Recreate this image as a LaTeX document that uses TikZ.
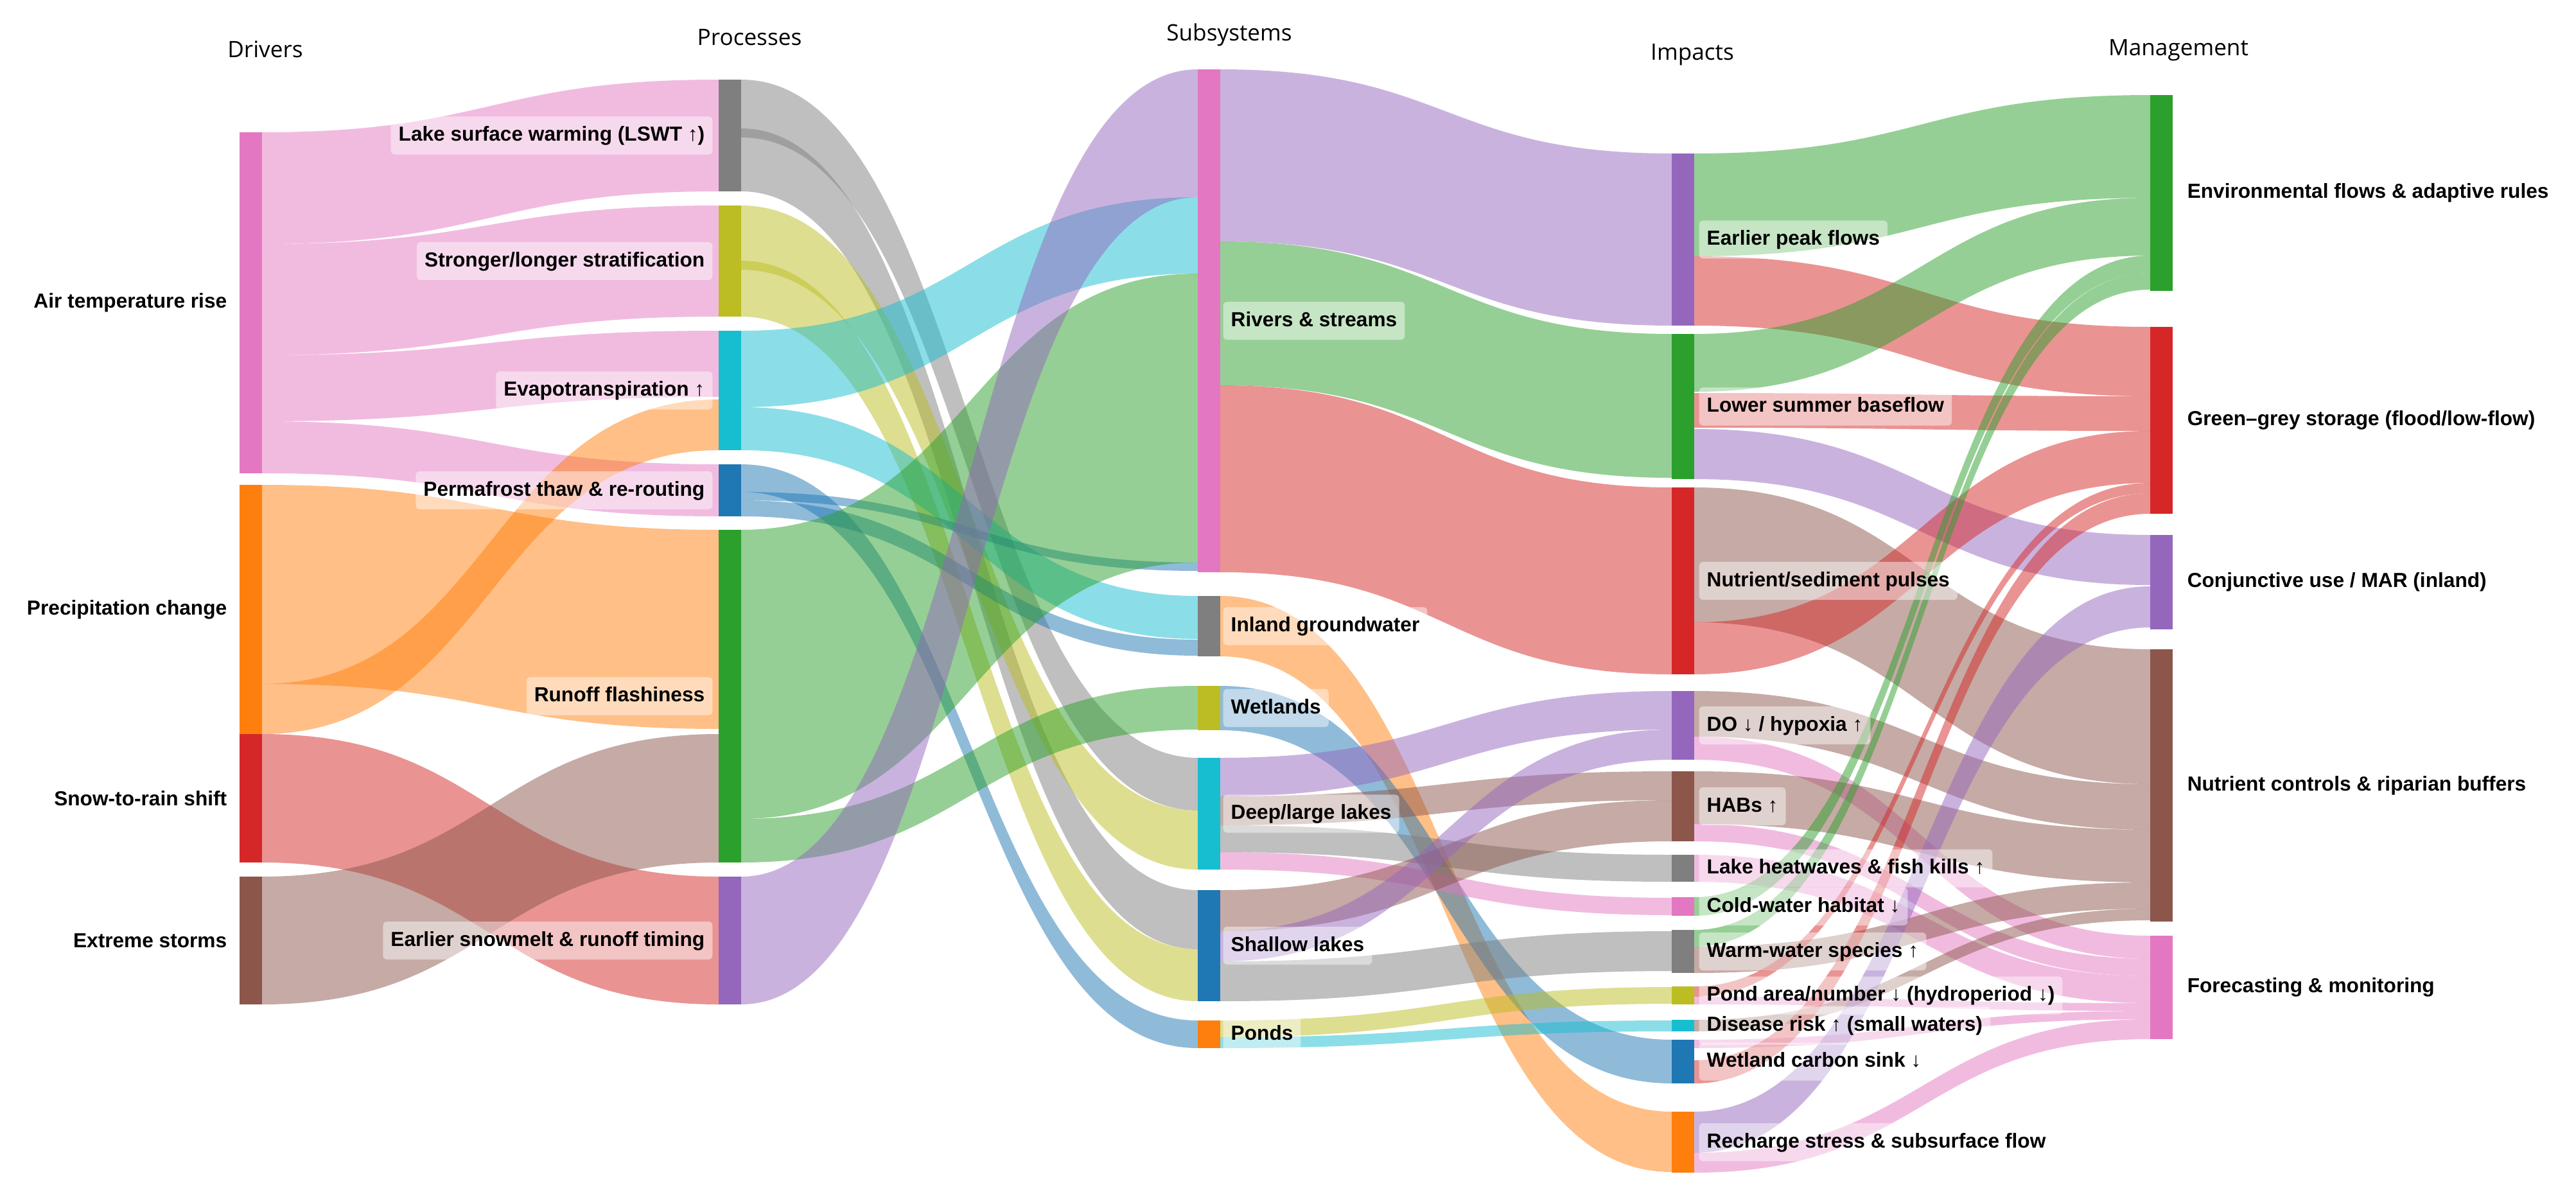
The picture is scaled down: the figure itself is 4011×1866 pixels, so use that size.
\documentclass[tikz,border=0pt]{standalone}
\usepackage{fontspec}
\setmainfont{Liberation Sans}
\newfontfamily\headfont{Open Sans}
\usetikzlibrary{positioning,fit,backgrounds}

\definecolor{tpink}{HTML}{E377C2}
\definecolor{torange}{HTML}{FF7F0E}
\definecolor{tred}{HTML}{D62728}
\definecolor{tbrown}{HTML}{8C564B}
\definecolor{tgray}{HTML}{7F7F7F}
\definecolor{tolive}{HTML}{BCBD22}
\definecolor{tcyan}{HTML}{17BECF}
\definecolor{tblue}{HTML}{1F77B4}
\definecolor{tgreen}{HTML}{2CA02C}
\definecolor{tpurple}{HTML}{9467BD}

\tikzset{stockbar/.style={rectangle,draw=none,inner sep=0,outer sep=0},
    band/.style={draw=none,fill opacity=0.5},
    plainlabel/.style={inner sep=0.08cm,font=\bfseries\fontsize{9}{10}\selectfont},
    tag/.style={rounded corners=0.06cm,fill=white,fill opacity=0.45,text opacity=1,
        inner xsep=0.12cm,inner ysep=0.14cm,text height=0.24cm,text depth=0.07cm,
        font=\bfseries\fontsize{9}{10}\selectfont},
    header/.style={font=\headfont\fontsize{10}{12}\selectfont}}

% bar of one stage: name, left x, top y, bottom y, colour
\newcommand{\stock}[5]{\node[stockbar,fill=#5,fit={(#2,#3) (#2+35,#4)}] (#1) {};}
% band: source, src top, src bottom, target, tgt top, tgt bottom, colour
\newcommand{\flow}[7]{\fill[band,fill=#7] (#1.east |- 0,#2) .. controls +(355,0) and +(-355,0) .. (#4.west |- 0,#5)
    -- (#4.west |- 0,#6) .. controls +(-355,0) and +(355,0) .. (#1.east |- 0,#3) -- cycle;}

\begin{document}
\begin{tikzpicture}[x=0.01cm,y=-0.01cm]
\useasboundingbox (0,0) rectangle (4011,1866);

% drivers
\stock{air}{373}{206}{737}{tpink}
\stock{precip}{373}{755}{1143}{torange}
\stock{snow}{373}{1143}{1343}{tred}
\stock{storms}{373}{1365}{1564}{tbrown}
% processes
\stock{lswt}{1119}{124}{298}{tgray}
\stock{strat}{1119}{320}{493}{tolive}
\stock{evap}{1119}{515}{701}{tcyan}
\stock{perma}{1119}{723}{804}{tblue}
\stock{runoff}{1119}{825}{1343}{tgreen}
\stock{melt}{1119}{1365}{1564}{tpurple}
% subsystems
\stock{rivers}{1865}{108}{891}{tpink}
\stock{gw}{1865}{928}{1022}{tgray}
\stock{wet}{1865}{1068}{1137}{tolive}
\stock{deep}{1865}{1180}{1354}{tcyan}
\stock{shallow}{1865}{1386}{1559}{tblue}
\stock{ponds}{1865}{1589}{1632}{torange}
% impacts
\stock{peak}{2603}{239}{507}{tpurple}
\stock{base}{2603}{520}{746}{tgreen}
\stock{pulse}{2603}{759}{1050}{tred}
\stock{hypox}{2603}{1076}{1183}{tpurple}
\stock{habs}{2603}{1201}{1310}{tbrown}
\stock{heat}{2603}{1331}{1373}{tgray}
\stock{cold}{2603}{1397}{1426}{tpink}
\stock{warm}{2603}{1448}{1515}{tgray}
\stock{pondarea}{2603}{1536}{1564}{tolive}
\stock{disease}{2603}{1588}{1606}{tcyan}
\stock{carbon}{2603}{1619}{1687}{tblue}
\stock{recharge}{2603}{1731}{1826}{torange}
% management
\stock{eflow}{3348}{148}{453}{tgreen}
\stock{storage}{3348}{509}{800}{tred}
\stock{conj}{3348}{833}{980}{tpurple}
\stock{nutctl}{3348}{1011}{1435}{tbrown}
\stock{forecast}{3348}{1457}{1618}{tpink}

\begin{pgfonlayer}{background}
% drivers -> processes
\flow{air}{206}{380}{lswt}{124}{298}{tpink}
\flow{air}{380}{553}{strat}{320}{493}{tpink}
\flow{air}{553}{656}{evap}{515}{618}{tpink}
\flow{air}{656}{737}{perma}{723}{804}{tpink}
\flow{precip}{755}{1065}{runoff}{825}{1135}{torange}
\flow{precip}{1065}{1143}{evap}{622}{701}{torange}
\flow{snow}{1143}{1343}{melt}{1365}{1564}{tred}
\flow{storms}{1365}{1564}{runoff}{1143}{1343}{tbrown}
% processes -> subsystems
\flow{lswt}{124}{214}{deep}{1180}{1262}{tgray}
\flow{lswt}{200}{298}{shallow}{1386}{1478}{tgray}
\flow{strat}{320}{420}{deep}{1262}{1354}{tolive}
\flow{strat}{406}{493}{shallow}{1478}{1559}{tolive}
\flow{evap}{515}{634}{rivers}{307}{426}{tcyan}
\flow{evap}{634}{701}{gw}{928}{995}{tcyan}
\flow{perma}{723}{766}{ponds}{1589}{1632}{tblue}
\flow{perma}{766}{779}{rivers}{876}{889}{tblue}
\flow{perma}{779}{804}{gw}{996}{1021}{tblue}
\flow{runoff}{825}{1275}{rivers}{426}{876}{tgreen}
\flow{runoff}{1275}{1343}{wet}{1068}{1136}{tgreen}
\flow{melt}{1365}{1564}{rivers}{108}{307}{tpurple}
% subsystems -> impacts
\flow{rivers}{108}{376}{peak}{239}{507}{tpurple}
\flow{rivers}{376}{600}{base}{520}{744}{tgreen}
\flow{rivers}{600}{891}{pulse}{759}{1050}{tred}
\flow{gw}{928}{1022}{recharge}{1731}{1825}{torange}
\flow{wet}{1068}{1137}{carbon}{1619}{1687}{tblue}
\flow{deep}{1180}{1240}{hypox}{1076}{1136}{tpurple}
\flow{deep}{1240}{1285}{habs}{1201}{1246}{tbrown}
\flow{deep}{1285}{1327}{heat}{1331}{1373}{tgray}
\flow{deep}{1327}{1354}{cold}{1398}{1425}{tpink}
\flow{shallow}{1386}{1450}{habs}{1246}{1310}{tbrown}
\flow{shallow}{1450}{1497}{hypox}{1136}{1183}{tpurple}
\flow{shallow}{1497}{1559}{warm}{1450}{1512}{tgray}
\flow{ponds}{1589}{1615}{pondarea}{1537}{1563}{tolive}
\flow{ponds}{1615}{1632}{disease}{1589}{1606}{tcyan}
% impacts -> management
\flow{peak}{239}{399}{eflow}{148}{308}{tgreen}
\flow{peak}{399}{507}{storage}{509}{617}{tred}
\flow{base}{520}{610}{eflow}{308}{398}{tgreen}
\flow{base}{612}{666}{storage}{617}{671}{tred}
\flow{base}{668}{746}{conj}{833}{911}{tpurple}
\flow{pulse}{759}{969}{nutctl}{1011}{1221}{tbrown}
\flow{pulse}{969}{1050}{storage}{671}{752}{tred}
\flow{hypox}{1076}{1147}{nutctl}{1221}{1292}{tbrown}
\flow{hypox}{1147}{1183}{forecast}{1457}{1493}{tpink}
\flow{habs}{1201}{1283}{nutctl}{1292}{1374}{tbrown}
\flow{habs}{1283}{1310}{forecast}{1493}{1520}{tpink}
\flow{heat}{1331}{1373}{forecast}{1520}{1562}{tpink}
\flow{cold}{1397}{1426}{eflow}{398}{425}{tgreen}
\flow{warm}{1448}{1474}{eflow}{425}{451}{tgreen}
\flow{warm}{1474}{1515}{nutctl}{1374}{1415}{tbrown}
\flow{pondarea}{1536}{1552}{storage}{752}{768}{tred}
\flow{pondarea}{1552}{1564}{forecast}{1562}{1574}{tpink}
\flow{disease}{1588}{1606}{nutctl}{1415}{1433}{tbrown}
\flow{carbon}{1619}{1632}{forecast}{1574}{1587}{tpink}
\flow{carbon}{1651}{1687}{storage}{768}{800}{tred}
\flow{recharge}{1731}{1795}{conj}{913}{977}{tpurple}
\flow{recharge}{1795}{1826}{forecast}{1587}{1618}{tpink}
\end{pgfonlayer}

% column headers
\node[header] (hdrv) at (413,77) {Drivers};
\node[header] (hproc) at (1167,58) {Processes};
\node[header] (hsub) at (1914,54) {Subsystems};
\node[header] (himp) at (2635,85) {Impacts};
\node[header] (hman) at (3392,78) {Management};

% driver labels
\node[plainlabel,left=0.11cm of air] (airlbl) {Air temperature rise};
\node[plainlabel,left=0.11cm of precip] (preciplbl) {Precipitation change};
\node[plainlabel,left=0.11cm of snow] (snowlbl) {Snow-to-rain shift};
\node[plainlabel,left=0.11cm of storms] (stormslbl) {Extreme storms};

% process labels
\node[tag,left=0.09cm of lswt] (lswtlbl) {Lake surface warming (LSWT ↑)};
\node[tag,left=0.09cm of strat] (stratlbl) {Stronger/longer stratification};
\node[tag,left=0.09cm of evap] (evaplbl) {Evapotranspiration ↑};
\node[tag,left=0.09cm of perma] (permalbl) {Permafrost thaw \& re-routing};
\node[tag,left=0.09cm of runoff] (runofflbl) {Runoff flashiness};
\node[tag,left=0.09cm of melt] (meltlbl) {Earlier snowmelt \& runoff timing};

% subsystem labels
\node[tag,right=0.04cm of rivers] (riverslbl) {Rivers \& streams};
\node[tag,right=0.04cm of gw] (gwlbl) {Inland groundwater};
\node[tag,right=0.04cm of wet] (wetlbl) {Wetlands};
\node[tag,right=0.04cm of deep] (deeplbl) {Deep/large lakes};
\node[tag,right=0.04cm of shallow] (shallowlbl) {Shallow lakes};
\node[tag,right=0.04cm of ponds] (pondslbl) {Ponds};

% impact labels
\node[tag,right=0.07cm of peak] (peaklbl) {Earlier peak flows};
\node[tag,right=0.07cm of base] (baselbl) {Lower summer baseflow};
\node[tag,right=0.07cm of pulse] (pulselbl) {Nutrient/sediment pulses};
\node[tag,right=0.07cm of hypox] (hypoxlbl) {DO ↓ / hypoxia ↑};
\node[tag,right=0.07cm of habs] (habslbl) {HABs ↑};
\node[tag,right=0.07cm of heat] (heatlbl) {Lake heatwaves \& fish kills ↑};
\node[tag,right=0.07cm of cold] (coldlbl) {Cold-water habitat ↓};
\node[tag,right=0.07cm of warm] (warmlbl) {Warm-water species ↑};
\node[tag,right=0.07cm of pondarea] (pondarealbl) {Pond area/number ↓ (hydroperiod ↓)};
\node[tag,right=0.07cm of disease] (diseaselbl) {Disease risk ↑ (small waters)};
\node[tag,right=0.07cm of carbon] (carbonlbl) {Wetland carbon sink ↓};
\node[tag,right=0.07cm of recharge] (rechargelbl) {Recharge stress \& subsurface flow};

% management labels
\node[plainlabel,right=0.14cm of eflow] (eflowlbl) {Environmental flows \& adaptive rules};
\node[plainlabel,right=0.14cm of storage] (storagelbl) {Green–grey storage (flood/low-flow)};
\node[plainlabel,right=0.14cm of conj] (conjlbl) {Conjunctive use / MAR (inland)};
\node[plainlabel,right=0.14cm of nutctl] (nutctllbl) {Nutrient controls \& riparian buffers};
\node[plainlabel,right=0.14cm of forecast] (forecastlbl) {Forecasting \& monitoring};

\end{tikzpicture}
\end{document}
